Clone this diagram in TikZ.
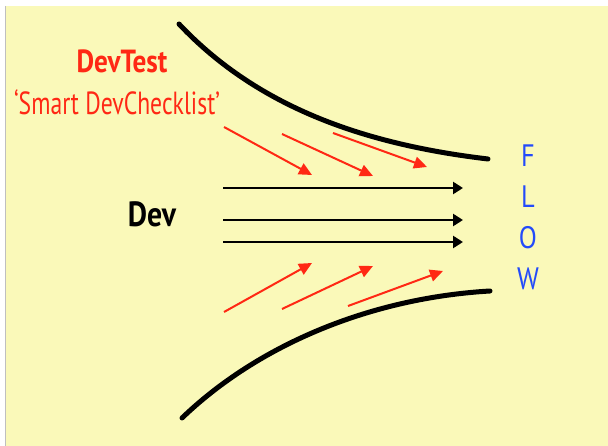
\documentclass[tikz,border=0pt]{standalone}
\usepackage{fontspec}
\setmainfont[FakeStretch=0.85]{PT Sans}
\newfontfamily\narrowfont[FakeStretch=0.74]{PT Sans}
\usetikzlibrary{arrows.meta}
\definecolor{padyellow}{RGB}{250,249,185}
\definecolor{testred}{RGB}{255,40,20}
\definecolor{flowblue}{RGB}{35,75,250}
\tikzset{
  label/.style={inner sep=0pt, anchor=base},
  flowletter/.style={label, flowblue, font=\fontsize{31}{33}\selectfont},
  wall/.style={line width=5pt, line cap=round},
  devarrow/.style={line width=2.5pt, -{Triangle[length=10pt,width=12pt]}},
  testarrow/.style={line width=2pt, testred, -{Triangle[length=13pt,width=12pt]}}
}
\begin{document}
\begin{tikzpicture}[x=1pt,y=-1pt]
\useasboundingbox (0,0) rectangle (608,446);
\fill[padyellow] (5,6) rectangle (608,446);
\draw[black!25, line width=0.8pt] (5,6) -- (5,446);

% text
\node[label, testred, font=\bfseries\fontsize{32}{34}\selectfont] (devtest) at (122,73) {DevTest};
\node[label, testred, font=\narrowfont\fontsize{32}{34}\selectfont] (smart) at (117,115) {‘Smart DevChecklist’};
\node[label, font=\bfseries\fontsize{35}{37}\selectfont] (dev) at (152,227) {Dev};
\node[flowletter] (F) at (528,167) {F};
\node[flowletter] (L) at (528,208) {L};
\node[flowletter] (O) at (528,249) {O};
\node[flowletter] (W) at (528,290) {W};

% walls of the funnel
\coordinate (top1) at (179,24);
\coordinate (top2) at (488,159);
\coordinate (bot1) at (182,418);
\coordinate (bot2) at (490,291);
\draw[wall] (top1) .. controls (260,110) and (370,145) .. (top2);
\draw[wall] (bot1) .. controls (258,345) and (370,298) .. (bot2);

% dev arrows
\foreach \i/\y in {1/188,2/220,3/242} {
  \coordinate (d\i s) at (223,\y);
  \coordinate (d\i e) at (463,\y);
  \path[draw,devarrow] (d\i s) -- (d\i e);
}

% test arrows
\coordinate (u1s) at (224,127); \coordinate (u1e) at (312,175);
\coordinate (u2s) at (282,134); \coordinate (u2e) at (373,176);
\coordinate (u3s) at (333,133); \coordinate (u3e) at (427,167);
\coordinate (l1s) at (224,312); \coordinate (l1e) at (312,263);
\coordinate (l2s) at (282,309); \coordinate (l2e) at (373,266);
\coordinate (l3s) at (348,306); \coordinate (l3e) at (443,271);
\foreach \a in {u1,u2,u3,l1,l2,l3}
  \path[draw,testarrow] (\a s) -- (\a e);
\end{tikzpicture}
\end{document}
